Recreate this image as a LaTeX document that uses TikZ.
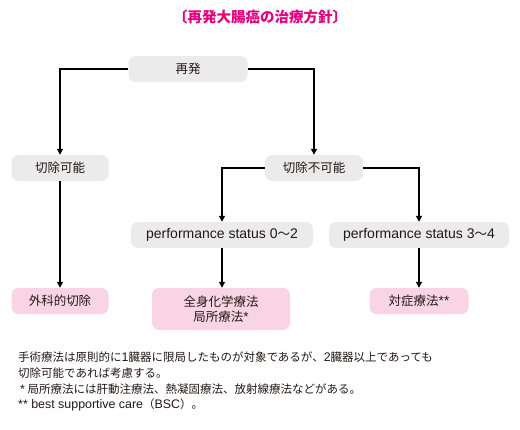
\documentclass[tikz,border=0pt]{standalone}
\usepackage{fontspec}
\setmainfont{Noto Sans CJK JP}
\newfontfamily\latf[Scale=1.12]{Liberation Sans}
\newfontfamily\latn[Scale=1.08]{Liberation Sans}
\usetikzlibrary{arrows.meta,positioning}
\definecolor{rcpink}{HTML}{E4007F}
\definecolor{rcgrey}{HTML}{EBEBEB}
\definecolor{rclight}{HTML}{F9D4E4}
\definecolor{rcdark}{HTML}{231815}
\tikzset{
  box/.style={fill=rcgrey,rounded corners=7pt,align=center,text=rcdark,
              minimum height=26pt,inner sep=3pt,font=\fontsize{12.5}{15}\selectfont},
  tx/.style={box,fill=rclight},
  ar/.style={-{Triangle[length=6pt,width=6pt]},line width=1.4pt,black},
  note/.style={anchor=west,inner sep=0pt,text=rcdark,font=\fontsize{11.5}{13}\selectfont},
}
\begin{document}
\begin{tikzpicture}[x=1pt,y=-1pt]
    \useasboundingbox (0,0) rectangle (520,429);
    \node[font=\fontsize{14.5}{17}\selectfont\bfseries,text=rcpink] (title) at (260,17) {〔再発大腸癌の治療方針〕};
    \node[box,minimum width=119pt] (rec) at (188,69) {再発};
    \node[box,minimum width=97pt] (res) at (60,168) {切除可能};
    \node[box,minimum width=98pt] (unres) at (314,168) {切除不可能};
    \node[box,minimum width=182pt] (psa) at (222,235) {\latf performance status 0{\rmfamily 〜}2};
    \node[box,minimum width=180pt] (psb) at (419,235) {\latf performance status 3{\rmfamily 〜}4};
    \node[tx,minimum width=97pt] (surg) at (60,301) {外科的切除};
    \node[tx,minimum width=138pt,minimum height=42pt] (chemo) at (221,309) {全身化学療法\\局所療法{\latn *}};
    \node[tx,minimum width=99pt] (bsc) at (419,301) {対症療法{\latn **}};
    \draw[ar](rec.west)-|(res.north);
    \draw[ar](rec.east)-|(unres.north);
    \draw[ar](unres.west)-|(psa.north);
    \draw[ar](unres.east)-|(psb.north);
    \draw[ar](res)--(surg);
    \draw[ar](psa)--(psa|-chemo.north);
    \draw[ar](psb)--(bsc);
    % notes
    \node[note] (n1) at (18,357) {手術療法は原則的に{\latn 1}臓器に限局したものが対象であるが、{\latn 2}臓器以上であっても};
    \node[note] (n2) at (18,373) {切除可能であれば考慮する。};
    \node[note] (n3) at (20,389) {{\latn *} 局所療法には肝動注療法、熱凝固療法、放射線療法などがある。};
    \node[note] (n4) at (18,405) {{\latn ** best supportive care}（{\latn BSC}）。};
\end{tikzpicture}
\end{document}
